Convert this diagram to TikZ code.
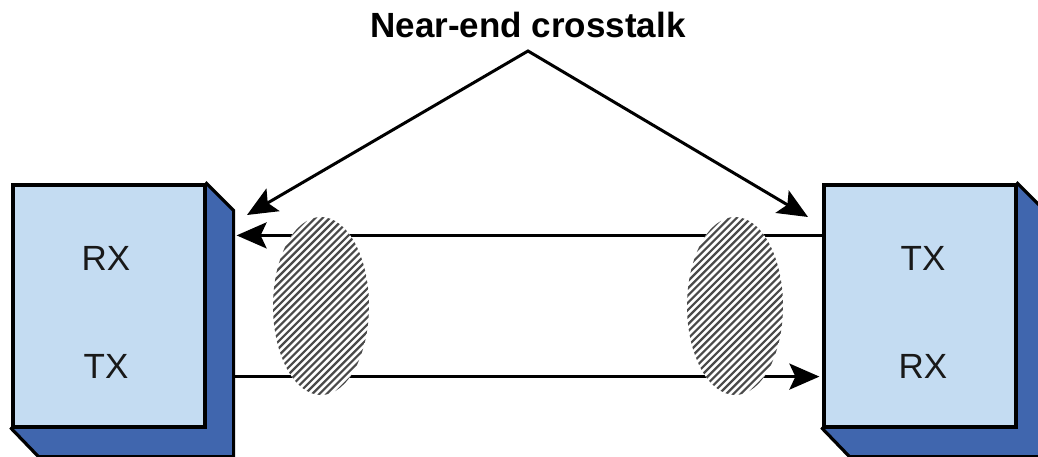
\documentclass[tikz,border=0pt]{standalone}
\usepackage{fontspec}
\setmainfont{Liberation Sans}
\usetikzlibrary{arrows.meta,positioning,calc,shapes.geometric,backgrounds}
\definecolor{boxface}{HTML}{C4DCF2}
\definecolor{boxside}{HTML}{4066AE}
\definecolor{hatchgray}{HTML}{4A4A4A}
\tikzset{
  unitbox/.style={draw=black, line width=3.2pt, fill=boxface, minimum width=192pt,
                  minimum height=242pt, inner sep=0pt},
  sidewall/.style={draw=black, line width=3.2pt, fill=boxside, line join=miter},
  portlabel/.style={font=\fontsize{35}{40}\selectfont, text=black!90, inner sep=0pt},
  titlelabel/.style={font=\fontsize{35}{40}\selectfont\bfseries, text=black, inner sep=0pt},
  xtalk/.style={ellipse, fill=white, minimum width=96pt, minimum height=178pt, inner sep=0pt,
                path picture={
                  \foreach \k in {-30,...,30}
                    \draw[hatchgray, line width=2.2pt]
                      ($(path picture bounding box.center)+(\k*7.2pt-100pt,-100pt)$) -- ++(200pt,200pt);}},
  arr/.style={-{Stealth[length=30pt,width=26pt,inset=6pt]}, line width=3pt},
  warr/.style={{Stealth[length=30pt,width=26pt,inset=6pt]}-{Stealth[length=30pt,width=26pt,inset=6pt]},
               line width=3pt, line join=miter}}

\begin{document}
\begin{tikzpicture}[x=1pt, y=-1pt]
  \useasboundingbox (0,0) rectangle (1038,457);
  % the two transceivers
  \node[unitbox] (lbox) at (109,306) {};
  \node[unitbox] (rbox) at (920,306) {};
  \begin{scope}[on background layer]
    \draw[sidewall] (lbox.north east) -- ($(lbox.north east)+(27,27)$) -- ($(lbox.south east)+(27,28)$)
      -- ($(lbox.south west)+(27,28)$) -- (lbox.south west) -- cycle;
    \draw[sidewall] (rbox.north east) -- ($(rbox.north east)+(27,27)$) -- ($(rbox.south east)+(27,28)$)
      -- ($(rbox.south west)+(27,28)$) -- (rbox.south west) -- cycle;
  \end{scope}
  \node[portlabel] (rxL) at ($(lbox.center)+(-3,-48)$) {RX};
  \node[portlabel] (txL) at ($(lbox.center)+(-3,60)$) {TX};
  \node[portlabel] (txR) at ($(rbox.center)+(3,-48)$) {TX};
  \node[portlabel] (rxR) at ($(rbox.center)+(3,60)$) {RX};
  % pair wires
  \draw[arr] ($(rbox.north west)+(0,52)$) -- ($(lbox.north east)+(30,52)$);
  \draw[arr] ($(lbox.south east)+(27,-52)$) -- ($(rbox.south west)+(-3,-52)$);
  % coupling zones
  \node[xtalk] (xtL) at (321,306) {};
  \node[xtalk] (xtR) at (735,306) {};
  % label
  \node[titlelabel] (nearend) at (528,25) {Near-end crosstalk};
  \coordinate (apex) at (528,51);
  \coordinate (hitL) at (247,215);
  \coordinate (hitR) at (808,217);
  \draw[warr] (hitL) -- (apex) -- (hitR);
\end{tikzpicture}
\end{document}
